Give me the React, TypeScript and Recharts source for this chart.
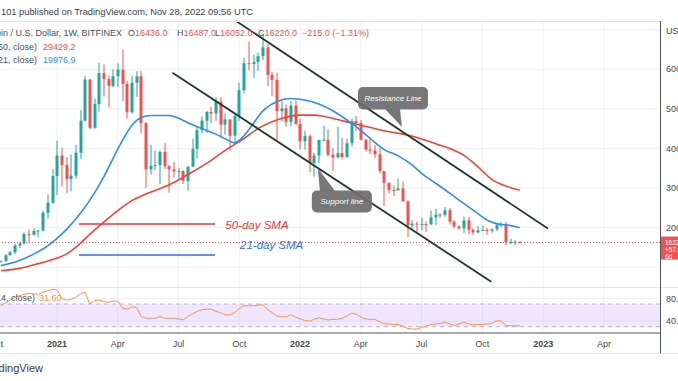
import React from 'react';
import {
  ComposedChart,
  Bar,
  Line,
  XAxis,
  YAxis,
  CartesianGrid,
  ReferenceLine,
  ReferenceArea,
  ReferenceDot,
} from 'recharts';

const W = 678;
const H = 381;
const AXIS_W = 18;
const X_DOMAIN: [number, number] = [-12.2, 129];
const PRICE_DOMAIN: [number, number] = [5000, 72170];
const RSI_DOMAIN: [number, number] = [19, 100];

const UP = '#26a69a';
const DOWN = '#ef5350';
const GRID = '#edf0f5';
const FONT = "'Liberation Sans', Arial, sans-serif";

// week index 0 = week of Jan 4, 2021; first candle is the week of Oct 12, 2020
const FIRST_WEEK = -12;

const opens = [
  11370, 11500, 13030, 13780, 15480, 15960, 18400, 18180,
  19170, 19270, 23750, 26300, 33000, 38200, 35800, 32250,
  33100, 38900, 47000, 57400, 45200, 51200, 59000, 57500,
  55800, 58200, 59900, 56300, 49100, 56600, 58200, 46400,
  34700, 35600, 35800, 39100, 35500, 34700, 34200, 34300,
  31800, 35400, 39900, 44600, 47000, 49200, 48800, 51800,
  46000, 47300, 43200, 48200, 54700, 61500, 61300, 61800,
  63300, 65500, 58600, 57300, 49400, 50100, 46700, 50800,
  46200, 41800, 43100, 36300, 38200, 42100, 42200, 38400,
  37700, 38800, 37800, 41300, 46900, 46400, 42200, 39700,
  39500, 38500, 34300, 31300, 29500, 29400, 29900, 26600,
  20600, 21000, 20800, 20900, 20800, 22600, 23300, 23200,
  24400, 21500, 20300, 19800, 21800, 19400, 18800, 19300,
  19400, 19200, 19600, 20600, 20900, 16300, 16400, 16436,
];
const highs = [
  11730, 13350, 14100, 15970, 16490, 18800, 19480, 19900,
  19420, 24300, 28400, 34800, 41950, 40100, 37800, 38500,
  40900, 49700, 58300, 57500, 52600, 61700, 61200, 58400,
  60000, 61500, 64900, 57000, 58400, 59500, 59600, 46600,
  40900, 39500, 39500, 41300, 35800, 36600, 35100, 34500,
  35400, 42500, 45300, 48100, 49500, 50500, 52900, 52900,
  48800, 47400, 49000, 56600, 62900, 67000, 63700, 64200,
  69000, 66300, 59400, 59100, 51900, 51100, 52000, 52100,
  47500, 44400, 43500, 38900, 42200, 45800, 44800, 40000,
  45400, 42600, 42400, 47500, 48200, 47200, 42400, 42900,
  40800, 40000, 34300, 31400, 30600, 32400, 31600, 26900,
  21900, 21500, 22500, 21600, 24300, 24700, 23700, 25200,
  25000, 21900, 20600, 22800, 22700, 19900, 20400, 20500,
  19900, 19700, 20900, 21500, 21500, 17200, 16800, 16487,
];
const lows = [
  11200, 11400, 12960, 13300, 14850, 15800, 16200, 18000,
  17600, 19000, 22300, 26000, 28200, 30400, 28800, 29200,
  32300, 37400, 46800, 44900, 44950, 49300, 53100, 50400,
  55400, 55500, 52000, 47500, 48800, 53000, 43800, 30000,
  33400, 34500, 31000, 34800, 28800, 32700, 32100, 31000,
  29300, 35300, 37500, 43800, 43900, 46400, 47000, 42900,
  43500, 39600, 40800, 46900, 53900, 59700, 57800, 59500,
  62300, 55700, 53300, 42000, 46800, 45500, 45600, 45900,
  39700, 39700, 34000, 32900, 36300, 41800, 38000, 34300,
  37500, 37200, 37600, 40500, 44500, 42000, 39200, 38600,
  37600, 33700, 25400, 28600, 28000, 29300, 26600, 17600,
  19700, 18800, 19300, 18900, 20700, 20700, 22400, 22700,
  20800, 19800, 19500, 18600, 18300, 18200, 18500, 19100,
  18200, 18700, 19200, 20100, 15600, 15800, 15500, 16052,
];
const closes = [
  11500, 13030, 13780, 15480, 15960, 18400, 18180, 19170,
  19270, 23750, 26300, 33000, 38200, 35800, 32250, 33100,
  38900, 47000, 57400, 45200, 51200, 59000, 57500, 55800,
  58200, 59900, 56300, 49100, 56600, 58200, 46400, 34700,
  35600, 35800, 39100, 35500, 34700, 34200, 34300, 31800,
  35400, 39900, 44600, 47000, 49200, 48800, 51800, 46000,
  47300, 43200, 48200, 54700, 61500, 61300, 61800, 63300,
  65500, 58600, 57300, 49400, 50100, 46700, 50800, 46200,
  41800, 43100, 36300, 38200, 42100, 42200, 38400, 37700,
  38800, 37800, 41300, 46900, 46400, 42200, 39700, 39500,
  38500, 34300, 31300, 29500, 29400, 29900, 26600, 20600,
  21000, 20800, 20900, 20800, 22600, 23300, 23200, 24400,
  21500, 20300, 19800, 21800, 19400, 18800, 19300, 19400,
  19200, 19600, 20600, 20900, 16300, 16400, 16450, 16220,
];
const rsiValues = [
  67, 72, 77, 82, 85, 87, 89, 88,
  87, 91, 93, 96, 95, 80, 77, 78,
  82, 88, 91, 70, 76, 77, 74, 73,
  75, 75, 63, 61, 65, 64, 48, 45,
  45, 45, 48, 45, 45, 45, 44, 42,
  48, 53, 57, 60, 61, 61, 57, 55,
  51, 51, 55, 62, 67, 67, 67, 68,
  69, 61, 55, 49, 48, 47, 51, 47,
  44, 41, 40, 43, 46, 44, 42, 43,
  43, 45, 49, 54, 52, 47, 44, 43,
  43, 39, 35, 35, 34, 34, 31, 27,
  26, 26, 29, 31, 34, 35, 36, 38,
  35, 32, 35, 38, 35, 33.5, 34, 34,
  35, 36, 40, 40.5, 32, 32, 31.5, 31.6,
];

// moving averages (week index, value)
const sma21Weeks = [-12, -8, -5, -2, 0, 2, 5, 8, 10, 12, 14, 16, 18, 20, 24, 26, 28, 31, 34, 36, 38, 40, 42, 44, 47, 50, 53, 56, 59, 61, 64, 67, 70, 73, 76, 78, 81, 84, 87, 90, 92, 94, 96, 98, 99];
const sma21Values = [10400, 11700, 13300, 15400, 17300, 19500, 23600, 28700, 32800, 37500, 42000, 45800, 47800, 48300, 48300, 47600, 46500, 45000, 43600, 42400, 41400, 43200, 46300, 49400, 51800, 52600, 52200, 51200, 49500, 48000, 45500, 42500, 39700, 38100, 35800, 33700, 31200, 28700, 26100, 23600, 21900, 21000, 20700, 20300, 19977];
const sma50Weeks = [-12, -8, -4, 0, 2, 4, 7, 10, 13, 16, 19, 22, 25, 28, 32, 36, 40, 43, 46, 49, 52, 55, 57, 60, 63, 67, 71, 75, 78, 81, 84, 87, 90, 93, 96, 99];
const sma50Values = [9100, 9700, 10900, 12300, 13300, 15000, 18300, 21400, 24300, 26800, 28500, 29800, 31400, 33400, 36200, 39500, 42500, 45000, 46700, 47900, 48400, 48400, 48100, 47300, 46400, 45300, 44200, 43400, 42400, 41200, 40000, 38300, 35400, 32200, 30500, 29429];

const timeTicks = [-13, 0, 13, 26, 39, 52, 65, 78, 91, 104, 117];
const timeLabels = ['Oct', '2021', 'Apr', 'Jul', 'Oct', '2022', 'Apr', 'Jul', 'Oct', '2023', 'Apr'];
const priceGrid = [10000, 20000, 30000, 40000, 50000, 60000, 70000];
const priceTicks = [20000, 30000, 40000, 50000, 60000];
const rsiTicks = [40, 80];

const candles = opens.map((o, k) => ({
  i: FIRST_WEEK + k,
  o,
  h: highs[k],
  l: lows[k],
  c: closes[k],
  range: [lows[k], highs[k]],
  rsi: rsiValues[k],
}));
const sma21 = sma21Weeks.map((i, k) => ({ i, v: sma21Values[k] }));
const sma50 = sma50Weeks.map((i, k) => ({ i, v: sma50Values[k] }));
const last = candles[candles.length - 1];

function Candle(props: any) {
  const { x, y, width, height, payload } = props;
  if (x == null || !payload) return null;
  const top = height < 0 ? y + height : y;
  const span = Math.abs(height);
  const { o, h, l, c } = payload;
  const k = h > l ? span / (h - l) : 0;
  const yOpen = top + (h - o) * k;
  const yClose = top + (h - c) * k;
  const color = c >= o ? UP : DOWN;
  const cx = Math.round(x + width / 2);
  return (
    <g>
      <rect x={cx - 0.5} y={top} width={1} height={Math.max(span, 1)} fill={color} />
      <rect x={cx - 1.5} y={Math.min(yOpen, yClose)} width={3} height={Math.max(1, Math.abs(yOpen - yClose))} fill={color} />
    </g>
  );
}

const labelText = (text: string, color: string) => (p: any) => (
  <text x={p.cx} y={p.cy} dy="0.35em" fill={color} fontSize={11.5} fontStyle="italic" fontFamily={FONT}>
    {text}
  </text>
);

function ResistanceCallout(p: any) {
  const { cx, cy } = p;
  return (
    <g>
      <rect x={cx - 44} y={cy - 40} width={70} height={22.5} rx={5} fill="#6b6b6b" fillOpacity={0.92} />
      <polygon points={`${cx - 17},${cy - 18} ${cx - 2},${cy - 18} ${cx},${cy}`} fill="#6b6b6b" fillOpacity={0.92} />
      <text x={cx - 9} y={cy - 28.7} dy="0.35em" textAnchor="middle" fill="#fff" fontSize={8} fontStyle="italic" fontFamily={FONT}>
        Resistance Line
      </text>
    </g>
  );
}

function SupportCallout(p: any) {
  const { cx, cy } = p;
  return (
    <g>
      <polygon points={`${cx},${cy} ${cx + 2},${cy + 23} ${cx + 17},${cy + 23}`} fill="#6b6b6b" fillOpacity={0.92} />
      <rect x={cx - 6} y={cy + 22.5} width={60} height={22} rx={5} fill="#6b6b6b" fillOpacity={0.92} />
      <text x={cx + 24} y={cy + 33.5} dy="0.35em" textAnchor="middle" fill="#fff" fontSize={8} fontStyle="italic" fontFamily={FONT}>
        Support line
      </text>
    </g>
  );
}

function PriceTag(p: any) {
  const { cx, cy } = p;
  return (
    <g fontFamily={FONT} fontSize={6.5}>
      <rect x={cx} y={cy - 6} width={AXIS_W} height={23} fill={DOWN} />
      <text x={cx + 5} y={cy + 2} fill="#fff">{last.c.toFixed(1)}</text>
      <text x={cx + 5} y={cy + 9.5} fill="#fff">+57.0</text>
      <text x={cx + 5} y={cy + 16} fill="#fff">6d</text>
    </g>
  );
}

function TimeTick(p: any) {
  const idx = timeTicks.indexOf(p.payload.value);
  const label = timeLabels[idx] ?? '';
  const isYear = /^\d+$/.test(label);
  return (
    <text x={p.x} y={p.y} dy="0.71em" textAnchor="middle" fill="#4a4a4a" fontSize={9} fontWeight={isYear ? 700 : 400} fontFamily={FONT}>
      {label}
    </text>
  );
}

const axisTick = { fill: '#4a4a4a', fontSize: 9, fontFamily: FONT };

export default function App() {
  return (
    <div style={{ position: 'absolute', left: 0, top: 0, width: W, height: H, background: '#fff', overflow: 'hidden' }}>
      {/* price pane */}
      <div style={{ position: 'absolute', left: 0, top: 0 }}>
        <ComposedChart width={W} height={H} data={candles} margin={{ top: 21, right: 0, bottom: 94, left: 0 }}>
          <CartesianGrid stroke={GRID} horizontalValues={priceGrid} verticalValues={timeTicks} />
          <XAxis type="number" dataKey="i" domain={X_DOMAIN} allowDataOverflow hide />
          <YAxis
            orientation="right"
            type="number"
            domain={PRICE_DOMAIN}
            allowDataOverflow
            ticks={priceTicks}
            width={AXIS_W}
            axisLine={false}
            tickLine={false}
            tickSize={0}
            tickMargin={6}
            tick={axisTick}
            tickFormatter={(v: number) => v.toFixed(1)}
            interval={0}
          />
          <ReferenceLine y={last.c} stroke={DOWN} strokeDasharray="1 2" />
          <Bar dataKey="range" shape={Candle} barSize={3} isAnimationActive={false} />
          <Line data={sma50} dataKey="v" type="monotone" stroke="#f0443a" strokeWidth={1.6} dot={false} isAnimationActive={false} />
          <Line data={sma21} dataKey="v" type="monotone" stroke="#2e8ef0" strokeWidth={1.6} dot={false} isAnimationActive={false} />

          {/* drawings */}
          <ReferenceLine segment={[{ x: 38.3, y: 72170 }, { x: 105, y: 19770 }]} stroke="#1f3a2b" strokeWidth={1.8} ifOverflow="visible" />
          <ReferenceLine segment={[{ x: 24.7, y: 59120 }, { x: 92.9, y: 6340 }]} stroke="#1f3a2b" strokeWidth={1.8} ifOverflow="visible" />
          <ReferenceLine segment={[{ x: 4.7, y: 20900 }, { x: 33.8, y: 20900 }]} stroke="#f2323c" strokeWidth={1.6} />
          <ReferenceLine segment={[{ x: 4.7, y: 13080 }, { x: 33.8, y: 13080 }]} stroke="#2f6ef2" strokeWidth={1.6} />
          <ReferenceDot x={36} y={20650} r={0} shape={labelText('50-day SMA', '#f2323c')} />
          <ReferenceDot x={39.15} y={15600} r={0} shape={labelText('21-day SMA', '#2f6ef2')} />
          <ReferenceDot x={73.8} y={45400} r={0} shape={ResistanceCallout} />
          <ReferenceDot x={55.8} y={35050} r={0} shape={SupportCallout} />
          <ReferenceDot x={X_DOMAIN[1]} y={last.c} r={0} shape={PriceTag} ifOverflow="visible" />
        </ComposedChart>
      </div>

      {/* RSI pane */}
      <div style={{ position: 'absolute', left: 0, top: 0 }}>
        <ComposedChart width={W} height={H} data={candles} margin={{ top: 287, right: 0, bottom: 28, left: 0 }}>
          <CartesianGrid stroke={GRID} horizontalValues={rsiTicks} verticalValues={timeTicks} />
          <XAxis
            type="number"
            dataKey="i"
            domain={X_DOMAIN}
            allowDataOverflow
            ticks={timeTicks}
            interval={0}
            height={20}
            tickLine={false}
            axisLine={{ stroke: '#50535e' }}
            tick={<TimeTick />}
          />
          <YAxis
            orientation="right"
            type="number"
            domain={RSI_DOMAIN}
            allowDataOverflow
            ticks={rsiTicks}
            width={AXIS_W}
            axisLine={false}
            tickLine={false}
            tickSize={0}
            tickMargin={6}
            tick={axisTick}
            tickFormatter={(v: number) => v.toFixed(2)}
            interval={0}
          />
          <ReferenceArea y1={30} y2={70} fill="#b388ff" fillOpacity={0.2} stroke="none" />
          <ReferenceLine y={70} stroke="#b2b5be" strokeDasharray="4 4" />
          <ReferenceLine y={30} stroke="#b2b5be" strokeDasharray="4 4" />
          <Line dataKey="rsi" type="linear" stroke="#f9924a" strokeWidth={1} dot={false} isAnimationActive={false} />
        </ComposedChart>
      </div>

      {/* frame and legend texts */}
      <svg width={W} height={H} style={{ position: 'absolute', left: 0, top: 0, pointerEvents: 'none' }} fontFamily={FONT}>
        <line x1={0} x2={660} y1={21.5} y2={21.5} stroke="#e0e3eb" />
        <line x1={0} x2={W} y1={287.5} y2={287.5} stroke="#e0e3eb" />
        <line x1={0} x2={W} y1={353.5} y2={353.5} stroke="#e0e3eb" />
        <line x1={660.5} x2={660.5} y1={21} y2={353} stroke="#50535e" />

        <text x={1} y={15.3} fontSize={9.3} fill="#3a3e48">101 published on TradingView.com, Nov 28, 2022 09:56 UTC</text>

        <g fontSize={9}>
          <text x={122} y={36} textAnchor="end" fill="#4c525e">Bitcoin / U.S. Dollar, 1W, BITFINEX</text>
          <text x={128} y={36} fill="#4c525e">O<tspan fill={DOWN}>16436.0</tspan></text>
          <text x={177} y={36} fill="#4c525e">H<tspan fill={DOWN}>16487.0</tspan></text>
          <text x={215} y={36} fill="#4c525e">L<tspan fill={DOWN}>16052.0</tspan></text>
          <text x={258} y={36} fill="#4c525e">C<tspan fill={DOWN}>16220.0</tspan></text>
          <text x={302} y={36} fill={DOWN}>−215.0 (−1.31%)</text>

          <text x={37} y={50} textAnchor="end" fill="#4c525e">MA (50, close)</text>
          <text x={43} y={50} fill={DOWN}>29429.2</text>
          <text x={37} y={63} textAnchor="end" fill="#4c525e">MA (21, close)</text>
          <text x={43} y={63} fill="#2e8ef0">19976.9</text>

          <text x={35} y={301} textAnchor="end" fill="#4c525e">RSI (14, close)</text>
          <text x={39} y={301} fill="#f9924a">31.60</text>

          <text x={666} y={34} fill="#4a4a4a">USD</text>
        </g>

        <text x={43} y={372} textAnchor="end" fontSize={11} fill="#3a3e48">TradingView</text>
      </svg>
    </div>
  );
}
